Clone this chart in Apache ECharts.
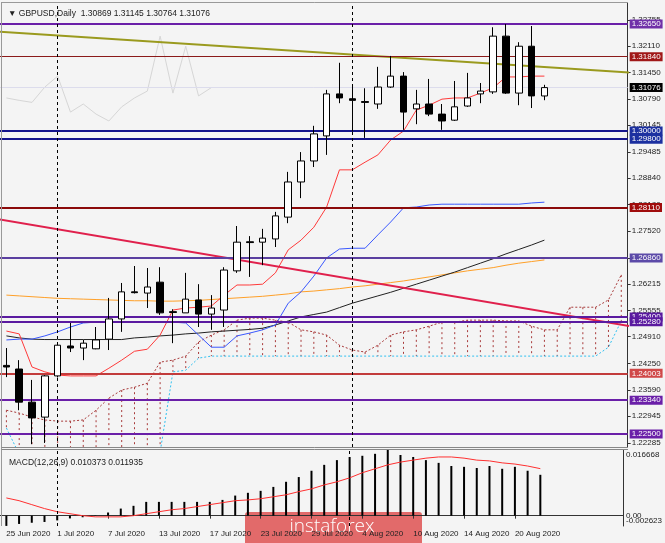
<!DOCTYPE html>
<html><head><meta charset="utf-8">
<script src="https://cdn.jsdelivr.net/npm/echarts@6/dist/echarts.min.js"></script>
<style>html,body{margin:0;padding:0;background:#f4f4f4;}#c{width:665px;height:543px;}</style>
</head><body><div id="c"></div>
<script>
const dates = ['25 Jun 2020','26 Jun 2020','29 Jun 2020','30 Jun 2020','1 Jul 2020','2 Jul 2020','3 Jul 2020','6 Jul 2020','7 Jul 2020','8 Jul 2020','9 Jul 2020','10 Jul 2020','13 Jul 2020','14 Jul 2020','15 Jul 2020','16 Jul 2020','17 Jul 2020','20 Jul 2020','21 Jul 2020','22 Jul 2020','23 Jul 2020','24 Jul 2020','27 Jul 2020','28 Jul 2020','29 Jul 2020','30 Jul 2020','31 Jul 2020','3 Aug 2020','4 Aug 2020','5 Aug 2020','6 Aug 2020','7 Aug 2020','10 Aug 2020','11 Aug 2020','12 Aug 2020','13 Aug 2020','14 Aug 2020','17 Aug 2020','18 Aug 2020','19 Aug 2020','20 Aug 2020','21 Aug 2020','24 Aug 2020'];
const futureSlots = ['+1','+2','+3','+4','+5','+6'];
const opens  = [1.2420,1.2411,1.2329,1.2292,1.2394,1.2468,1.2463,1.2461,1.2485,1.2535,1.2602,1.2599,1.2626,1.2553,1.2550,1.2582,1.2547,1.2557,1.2654,1.2726,1.2725,1.2733,1.2787,1.2874,1.2926,1.2988,1.3092,1.3080,1.3073,1.3067,1.3109,1.3136,1.3055,1.3067,1.3042,1.3027,1.3062,1.3092,1.3097,1.3235,1.3094,1.3210,1.30869];
const highs  = [1.2463,1.2433,1.2384,1.2396,1.2476,1.2525,1.2483,1.2515,1.2587,1.2624,1.2666,1.2661,1.2663,1.2559,1.2649,1.2621,1.2594,1.2663,1.2765,1.2740,1.2758,1.2800,1.2899,1.2948,1.3013,1.3102,1.3169,1.3112,1.3106,1.3159,1.3186,1.3146,1.3102,1.3129,1.3067,1.3124,1.3144,1.3119,1.3257,1.3265,1.3220,1.3260,1.31145];
const lows   = [1.2391,1.2309,1.2225,1.2228,1.2390,1.2453,1.2433,1.2460,1.2458,1.2503,1.2598,1.2562,1.2545,1.2475,1.2550,1.2515,1.2508,1.2515,1.2649,1.2639,1.2668,1.2713,1.2772,1.2834,1.2911,1.2941,1.3069,1.2999,1.2983,1.3055,1.3107,1.3003,1.3017,1.3037,1.3003,1.3025,1.3060,1.3069,1.3092,1.3092,1.3064,1.3057,1.30764];
const closes = [1.2416,1.2329,1.2290,1.2394,1.2470,1.2463,1.2475,1.2483,1.2535,1.2602,1.2600,1.2614,1.2550,1.2551,1.2584,1.2547,1.2562,1.2656,1.2725,1.2724,1.2735,1.2790,1.2874,1.2926,1.2993,1.3092,1.3082,1.3076,1.3071,1.3109,1.3136,1.3047,1.3067,1.3042,1.3025,1.3060,1.3082,1.3099,1.3235,1.3094,1.3210,1.3087,1.31076];
const tenkan = [1.2505,1.2498,1.2416,1.2404,1.2396,1.2394,1.2394,1.2394,1.2413,1.2433,1.2455,1.2460,1.2495,1.2557,1.2562,1.2564,1.2567,1.2594,1.2619,1.2619,1.2621,1.2649,1.2706,1.2730,1.2762,1.2812,1.2904,1.2904,1.2923,1.2941,1.2978,1.3000,1.3052,1.3064,1.3079,1.3082,1.3082,1.3094,1.3107,1.3134,1.3134,1.3136,1.3136];
const kijun  = [1.2483,1.2485,1.2485,1.2493,1.2503,1.2515,1.2525,1.2527,1.2527,1.2527,1.2527,1.2527,1.2527,1.2527,1.2525,1.2495,1.2465,1.2465,1.2493,1.2500,1.2508,1.2520,1.2574,1.2602,1.2641,1.2686,1.2708,1.2710,1.2710,1.2743,1.2775,1.2810,1.2812,1.2817,1.2819,1.2819,1.2819,1.2819,1.2819,1.2819,1.2819,1.2822,1.2824];
const chikou = [1.3082,1.3076,1.3071,1.3109,1.3136,1.3047,1.3067,1.3042,1.3025,1.3060,1.3082,1.3099,1.3235,1.3094,1.3210,1.3087,1.31076];
const spanA  = [1.2309,1.2302,1.2292,1.2285,1.2282,1.2282,1.2285,1.2309,1.2339,1.2359,1.2366,1.2376,1.2428,1.2433,1.2443,1.2478,1.2495,1.2508,1.2532,1.2537,1.2537,1.2532,1.2527,1.2508,1.2503,1.2495,1.2470,1.2458,1.2453,1.2470,1.2495,1.2503,1.2508,1.2517,1.2527,1.2527,1.2532,1.2532,1.2532,1.2530,1.2530,1.2517,1.2508,1.2508,1.2564,1.2564,1.2564,1.2582,1.2644];
const spanB  = [1.2265,1.2200,1.2200,1.2200,1.2200,1.2200,1.2200,1.2200,1.2200,1.2200,1.2200,1.2200,1.2205,1.2404,1.2408,1.2438,1.2443,1.2443,1.2443,1.2443,1.2443,1.2443,1.2443,1.2443,1.2443,1.2443,1.2443,1.2443,1.2443,1.2443,1.2443,1.2443,1.2443,1.2443,1.2443,1.2443,1.2443,1.2443,1.2443,1.2443,1.2443,1.2443,1.2443,1.2443,1.2443,1.2443,1.2443,1.2465,1.2530];
const smaSlow = [1.2594,1.2592,1.2590,1.2588,1.2586,1.2585,1.2584,1.2583,1.2582,1.2581,1.2580,1.2580,1.2579,1.2579,1.2580,1.2581,1.2583,1.2585,1.2587,1.2589,1.2591,1.2594,1.2597,1.2602,1.2604,1.2607,1.2610,1.2614,1.2617,1.2621,1.2625,1.2629,1.2634,1.2639,1.2644,1.2649,1.2654,1.2658,1.2662,1.2668,1.2673,1.2677,1.2681];
const smaMid  = [1.2493,1.2488,1.2485,1.2484,1.2484,1.2484,1.2484,1.2484,1.2484,1.2484,1.2488,1.2490,1.2493,1.2495,1.2498,1.2500,1.2503,1.2505,1.2507,1.2509,1.2512,1.2520,1.2530,1.2540,1.2546,1.2552,1.2563,1.2574,1.2583,1.2592,1.2601,1.2611,1.2621,1.2631,1.2641,1.2651,1.2662,1.2673,1.2684,1.2696,1.2707,1.2718,1.2730];
const macd   = [-0.0026,-0.0021,-0.0018,-0.0016,-0.0012,-0.0007,-0.0004,-0.0001,0.0008,0.0018,0.0025,0.0035,0.0035,0.0035,0.0035,0.0035,0.0035,0.0040,0.0051,0.0058,0.0063,0.0073,0.0086,0.0098,0.0114,0.0129,0.0141,0.0149,0.0152,0.0157,0.016668,0.0154,0.0149,0.0141,0.0134,0.0126,0.0124,0.0121,0.0126,0.0119,0.0124,0.0114,0.010373];
const signal = [0.0045,0.0038,0.0028,0.0018,0.0010,0.0005,0.0000,-0.0003,-0.0003,-0.0003,0.0000,0.0005,0.0010,0.0015,0.0018,0.0023,0.0028,0.0033,0.0038,0.0040,0.0043,0.0048,0.0053,0.0061,0.0068,0.0078,0.0086,0.0096,0.0109,0.0119,0.0129,0.0136,0.0141,0.0146,0.0149,0.0149,0.0146,0.0141,0.0139,0.0134,0.0131,0.0126,0.011935];
const levels = [1.32650,1.31840,1.30000,1.29800,1.28110,1.26860,1.25400,1.25280,1.24003,1.23340,1.22500];
const priceTicks = [1.22285,1.22945,1.23590,1.24250,1.24910,1.25555,1.26215,1.26860,1.27520,1.28180,1.28840,1.29485,1.30145,1.30790,1.31450,1.32110,1.32755];
const oliveLine = [[-1,1.32467],[49,1.31439]];
const crimsonLine = [[-1,1.27840],[49,1.25154]];
const lastPrice = 1.31076;
const macdTicks = [0.016668, 0, -0.002623];
const title = 'GBPUSD,Daily  1.30869 1.31145 1.30764 1.31076';
const macdTitle = 'MACD(12,26,9) 0.010373 0.011935';

// styles
const levelLine = ['#6a1fa8','#8b1a1a','#14148c','#14148c','#8b0a0a','#5a3fa0','#5a1aa0','#5a1aa0','#c23b3b','#6a1fa8','#6a1fa8'];
const levelBg   = ['#7030a8','#a01818','#1c30a0','#1c30a0','#a00c0c','#5c4aa8','#5a1aa0','#5a1aa0','#d04848','#6a1fa8','#6a1fa8'];
const levelW    = [2,1,2,2,2,2,2,2,2,2,2];

const cats = dates.concat(futureSlots);
const FONT = "'Liberation Sans','DejaVu Sans',sans-serif";
const chart = echarts.init(document.getElementById('c'), null, {renderer:'canvas'});
const showIdx = (i) => i % 4 === 0 && i <= 40;

const ohlc = opens.map((o,i)=>[o, closes[i], lows[i], highs[i]]);
const cloud = spanA.map((a,i)=>[i, a, spanB[i]]);

const levelData = levels.map((v,k)=>({
  yAxis: v,
  lineStyle: {color: levelLine[k], width: levelW[k], type:'solid'},
  label: {backgroundColor: levelBg[k], formatter: v.toFixed(5)}
}));
levelData.unshift({yAxis:lastPrice, lineStyle:{color:'#dcdcec', width:1, type:'solid'}, label:{backgroundColor:'#000', formatter: lastPrice.toFixed(5)}});

const option = {
  animation: false,
  backgroundColor: '#f4f4f4',
  title: [
    {text: '\u25BC ' + title, left: 3, top: 4, textStyle:{fontSize:8.5, fontWeight:'normal', color:'#222', fontFamily:FONT}},
    {text: macdTitle, left: 4, top: 453, textStyle:{fontSize:8.5, fontWeight:'normal', color:'#222', fontFamily:FONT}}
  ],
  grid: [
    {left: -3.44, top: 3, width: 631.12, height: 444},
    {left: -3.44, top: 450, width: 631.12, height: 76}
  ],
  xAxis: [
    {type:'category', gridIndex:0, data: cats, boundaryGap:true, show:false},
    {type:'category', gridIndex:1, data: cats, boundaryGap:true,
     axisLine:{show:true, lineStyle:{color:'#333', width:1}},
     axisTick:{show:true, alignWithLabel:true, interval:(i)=>showIdx(i), length:3, lineStyle:{color:'#333'}},
     axisLabel:{interval:(i)=>showIdx(i), align:'left', fontSize:8, color:'#222', margin:4, fontFamily:FONT}}
  ],
  yAxis: [
    {type:'value', gridIndex:0, position:'right', min:1.2218, max:1.3317,
     axisLine:{show:true, lineStyle:{color:'#333'}},
     axisTick:{show:true, length:3, customValues: priceTicks, lineStyle:{color:'#333'}},
     axisLabel:{customValues: priceTicks, formatter:(v)=>v.toFixed(5), fontSize:8, color:'#222', margin:4, fontFamily:FONT, hideOverlap:false},
     splitLine:{show:false}},
    {type:'value', gridIndex:1, position:'right', min:-0.002623, max:0.016668,
     axisLine:{show:true, lineStyle:{color:'#333'}},
     axisTick:{show:false},
     axisLabel:{customValues:[0.0155, -0.0006], hideOverlap:false,
       formatter:(v)=> v>0.01 ? macdTicks[0].toFixed(6) : ('0.00\n' + macdTicks[2].toFixed(6)),
       lineHeight:5, fontSize:8, color:'#222', margin:3, fontFamily:FONT},
     splitLine:{show:false}}
  ],
  graphic: [
    {type:'line', shape:{x1:1.5,y1:2,x2:1.5,y2:526}, style:{stroke:'#999', lineWidth:1}, z:100},
    {type:'line', shape:{x1:1.5,y1:2.5,x2:628,y2:2.5}, style:{stroke:'#999', lineWidth:1}, z:100},
    {type:'line', shape:{x1:1.5,y1:447.5,x2:628,y2:447.5}, style:{stroke:'#888', lineWidth:1}, z:100},
    {type:'line', shape:{x1:1.5,y1:449.5,x2:628,y2:449.5}, style:{stroke:'#888', lineWidth:1}, z:100},
    {type:'group', left:245, top:512, z:200, children:[
      {type:'rect', shape:{x:0,y:0,width:177,height:40,r:3}, style:{fill:'#e26a6a'}},
      {type:'text', x:87, y:15, style:{text:'instaforex', fill:'#fff', font:"300 19px 'Open Sans', sans-serif", textAlign:'center', textVerticalAlign:'middle'}}
    ]}
  ],
  series: [
    {type:'custom', name:'cloud', xAxisIndex:0, yAxisIndex:0, clip:true, z:1, data: cloud,
     renderItem:(params, api)=>{
       const p1 = api.coord([api.value(0), api.value(1)]);
       const p2 = api.coord([api.value(0), api.value(2)]);
       return {type:'line', shape:{x1:p1[0],y1:p1[1],x2:p2[0],y2:p2[1]}, style:{stroke:'#a83a3a', lineWidth:1, lineDash:[2,3]}};
     }},
    {type:'line', name:'spanA', data: spanA, symbol:'none', z:2, lineStyle:{color:'#a83a3a', width:1, type:[2,2]}},
    {type:'line', name:'spanB', data: spanB, symbol:'none', z:2, lineStyle:{color:'#30c0f0', width:1, type:[2,2]}},
    {type:'line', name:'chikou', data: chikou, symbol:'none', z:2, lineStyle:{color:'#d6d6d6', width:1}},
    {type:'line', name:'smaSlow', data: smaSlow, symbol:'none', z:3, lineStyle:{color:'#ffa028', width:1}},
    {type:'line', name:'smaMid', data: smaMid, symbol:'none', z:3, lineStyle:{color:'#222', width:1}},
    {type:'line', name:'kijun', data: kijun, symbol:'none', z:3, lineStyle:{color:'#3a58ff', width:1}},
    {type:'line', name:'tenkan', data: tenkan, symbol:'none', z:3, lineStyle:{color:'#ff3a3a', width:1}},
    {type:'line', name:'olive', data: oliveLine, symbol:'none', z:4, lineStyle:{color:'#9a9a1e', width:2}},
    {type:'line', name:'crimson', data: crimsonLine, symbol:'none', z:4, lineStyle:{color:'#e0204c', width:2}},
    {type:'candlestick', name:'GBPUSD', data: ohlc, barWidth:7, z:5,
     itemStyle:{color:'#ffffff', color0:'#000000', borderColor:'#000000', borderColor0:'#000000', borderWidth:1}},
    {type:'line', name:'levels', data:[], z:6, symbol:'none',
     markLine:{silent:true, symbol:['none','none'], animation:false, precision:5,
       label:{show:true, position:'end', distance:2, color:'#fff', fontSize:8, padding:[1,2,0,2], fontFamily:FONT},
       data: levelData}},
    {type:'line', name:'sep', data:[], z:6, symbol:'none',
     markLine:{silent:true, symbol:['none','none'], label:{show:false}, lineStyle:{color:'#000', type:[3,3], width:1},
       data:[{xAxis: dates[4]}, {xAxis: dates[27]}]}},
    {type:'bar', name:'MACD', xAxisIndex:1, yAxisIndex:1, data: macd, barWidth:2, itemStyle:{color:'#000'},
     markLine:{silent:true, symbol:['none','none'], label:{show:false}, lineStyle:{color:'#000', type:[3,3], width:1},
       data:[{xAxis: dates[4]}, {xAxis: dates[27]}]}},
    {type:'line', name:'Signal', xAxisIndex:1, yAxisIndex:1, data: signal, symbol:'none', lineStyle:{color:'#ff3030', width:1}}
  ]
};
chart.setOption(option);
</script>
</body></html>
